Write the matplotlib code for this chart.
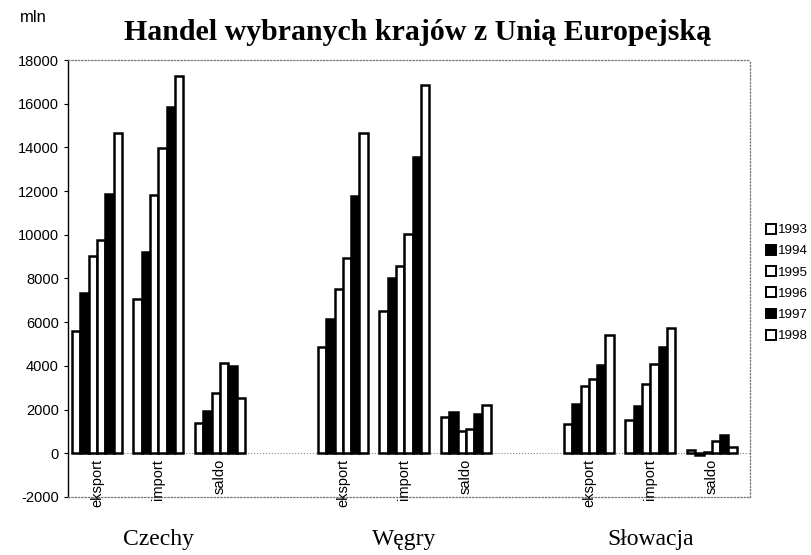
import numpy as np
import matplotlib
matplotlib.use('Agg')
import matplotlib.pyplot as plt
from matplotlib.patches import Patch

# dane (mln)
lata = ['1993', '1994', '1995', '1996', '1997', '1998']
kraje = ['Czechy', 'Węgry', 'Słowacja']
kategorie = ['eksport', 'import', 'saldo']

czechy_eksport = [5600, 7330, 9010, 9780, 11870, 14660]
czechy_import = [7040, 9210, 11810, 13950, 15840, 17280]
czechy_saldo = [1390, 1930, 2750, 4150, 3990, 2540]

wegry_eksport = [4880, 6130, 7530, 8940, 11780, 14660]
wegry_import = [6500, 8000, 8580, 10040, 13550, 16870]
wegry_saldo = [1650, 1900, 1010, 1090, 1800, 2230]

slowacja_eksport = [1360, 2260, 3100, 3420, 4020, 5430]
slowacja_import = [1510, 2180, 3180, 4070, 4860, 5720]
slowacja_saldo = [150, -100, 50, 550, 830, 310]

kolory = ['white', 'black', 'white', 'white', 'black', 'white']

grupy = [czechy_eksport, czechy_import, czechy_saldo,
         wegry_eksport, wegry_import, wegry_saldo,
         slowacja_eksport, slowacja_import, slowacja_saldo]
# pozycje kategorii (z przerwa miedzy krajami)
pozycje = [0, 1, 2, 4, 5, 6, 8, 9, 10]

fig = plt.figure(figsize=(8.11, 5.55), dpi=100)
ax = fig.add_axes([68 / 811, 1 - 497 / 555, (750 - 68) / 811, (497 - 60) / 555])

szer = 0.135
for j, rok in enumerate(lata):
    x = np.array(pozycje) + (j - 2.5) * szer
    y = [g[j] for g in grupy]
    ax.bar(x, y, width=szer, color=kolory[j], edgecolor='black', linewidth=1.8)

ax.set_xlim(-0.47, 10.62)
ax.set_ylim(-2000, 18000)
ax.set_yticks(range(-2000, 18001, 2000))
ax.set_yticklabels([str(v) for v in range(-2000, 18001, 2000)],
                   fontsize=10.5, family='Liberation Sans')
ax.tick_params(axis='y', length=3, width=0.8)
ax.set_xticks([])

ax.axhline(0, color='#888888', lw=0.8, ls=':', zorder=0)
ax.spines['left'].set_linewidth(1.0)
for s in ['top', 'right', 'bottom']:
    ax.spines[s].set_linestyle(':')
    ax.spines[s].set_color('#777777')
    ax.spines[s].set_linewidth(0.9)

# etykiety kategorii (pionowe)
for i, p in enumerate(pozycje):
    ax.text(p, -250, kategorie[i % 3], rotation=90, ha='center', va='top',
            fontsize=10.5, family='Liberation Sans', clip_on=False)

# nazwy krajow
for k, kraj in enumerate(kraje):
    ax.text(pozycje[k * 3 + 1], -3950, kraj, ha='center', va='center',
            fontsize=17, family='Liberation Serif', clip_on=False)

fig.text(0.515, 1 - 33 / 555, 'Handel wybranych krajów z Unią Europejską',
         ha='center', va='center', fontsize=21.5, fontweight='bold',
         family='Liberation Serif')
fig.text(20 / 811, 1 - 17 / 555, 'mln', ha='left', va='center',
         fontsize=12, family='Liberation Sans')

uchwyty = [Patch(facecolor=kolory[j], edgecolor='black', linewidth=1.4, label=lata[j])
           for j in range(len(lata))]
fig.legend(handles=uchwyty, loc='center left', bbox_to_anchor=(759 / 811, 1 - 283 / 555),
           frameon=False, handlelength=0.75, handleheight=0.75,
           handletextpad=0.15, labelspacing=0.65, borderpad=0,
           prop={'family': 'Liberation Sans', 'size': 9.6})

fig.savefig('out.png', dpi=100)
